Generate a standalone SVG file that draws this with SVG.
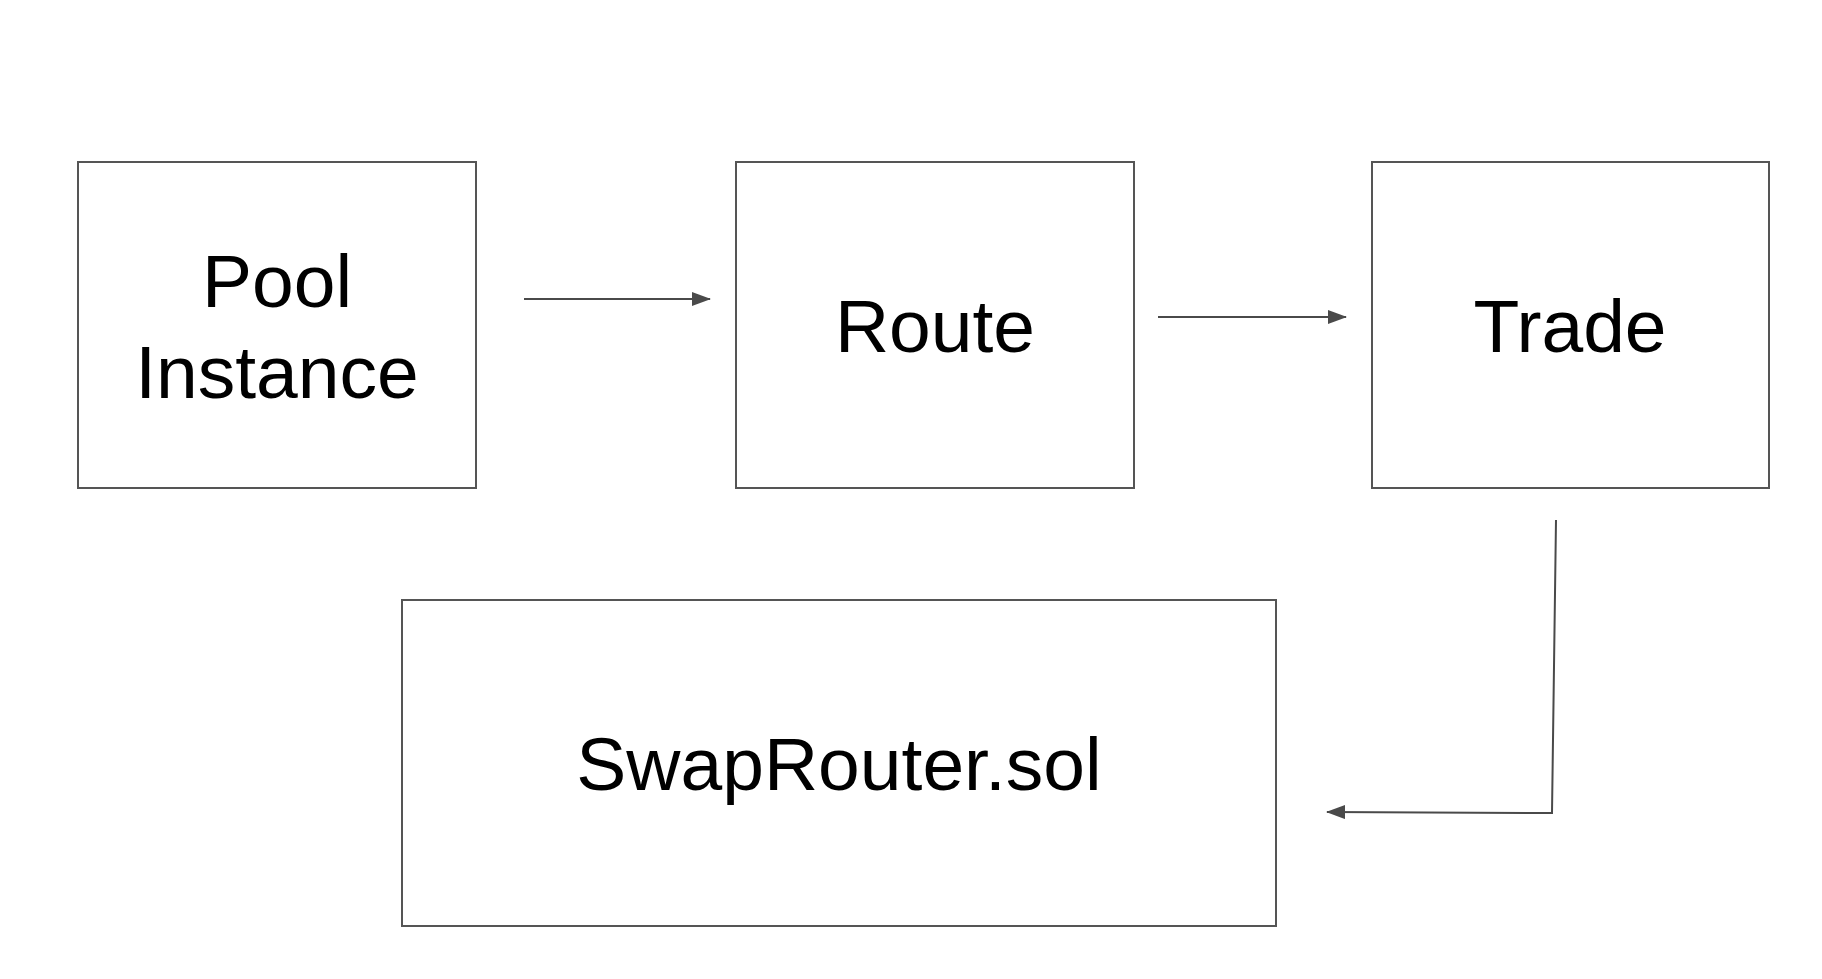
<svg xmlns="http://www.w3.org/2000/svg" width="1822" height="979" viewBox="0 0 1822 979">
<style>
.box{fill:#ffffff;stroke:#555555;stroke-width:2}
.lbl{font-family:"Liberation Sans",Arial,sans-serif;font-size:75px;fill:#000000;text-anchor:middle}
.edge{fill:none;stroke:#4a4a4a;stroke-width:2}
</style>
<defs>
<marker id="arr" markerUnits="userSpaceOnUse" markerWidth="19" markerHeight="14" refX="18" refY="7" orient="auto">
<path d="M0,0 L19,7 L0,14 z" fill="#4a4a4a"/>
</marker>
</defs>
<rect width="1822" height="979" fill="#ffffff"/>
<g id="pool">
<rect class="box" x="78" y="162" width="398" height="326"/>
<text class="lbl" x="277" y="307">Pool</text>
<text class="lbl" x="277" y="398">Instance</text>
</g>
<g id="route">
<rect class="box" x="736" y="162" width="398" height="326"/>
<text class="lbl" x="935" y="352">Route</text>
</g>
<g id="trade">
<rect class="box" x="1372" y="162" width="397" height="326"/>
<text class="lbl" x="1570" y="352">Trade</text>
</g>
<g id="swaprouter">
<rect class="box" x="402" y="600" width="874" height="326"/>
<text class="lbl" x="839" y="790">SwapRouter.sol</text>
</g>
<g id="connectors">
<line class="edge" x1="524" y1="299" x2="710" y2="299" marker-end="url(#arr)"/>
<line class="edge" x1="1158" y1="317" x2="1346" y2="317" marker-end="url(#arr)"/>
<polyline class="edge" points="1556,520 1552,813 1327,812" marker-end="url(#arr)"/>
</g>
</svg>
